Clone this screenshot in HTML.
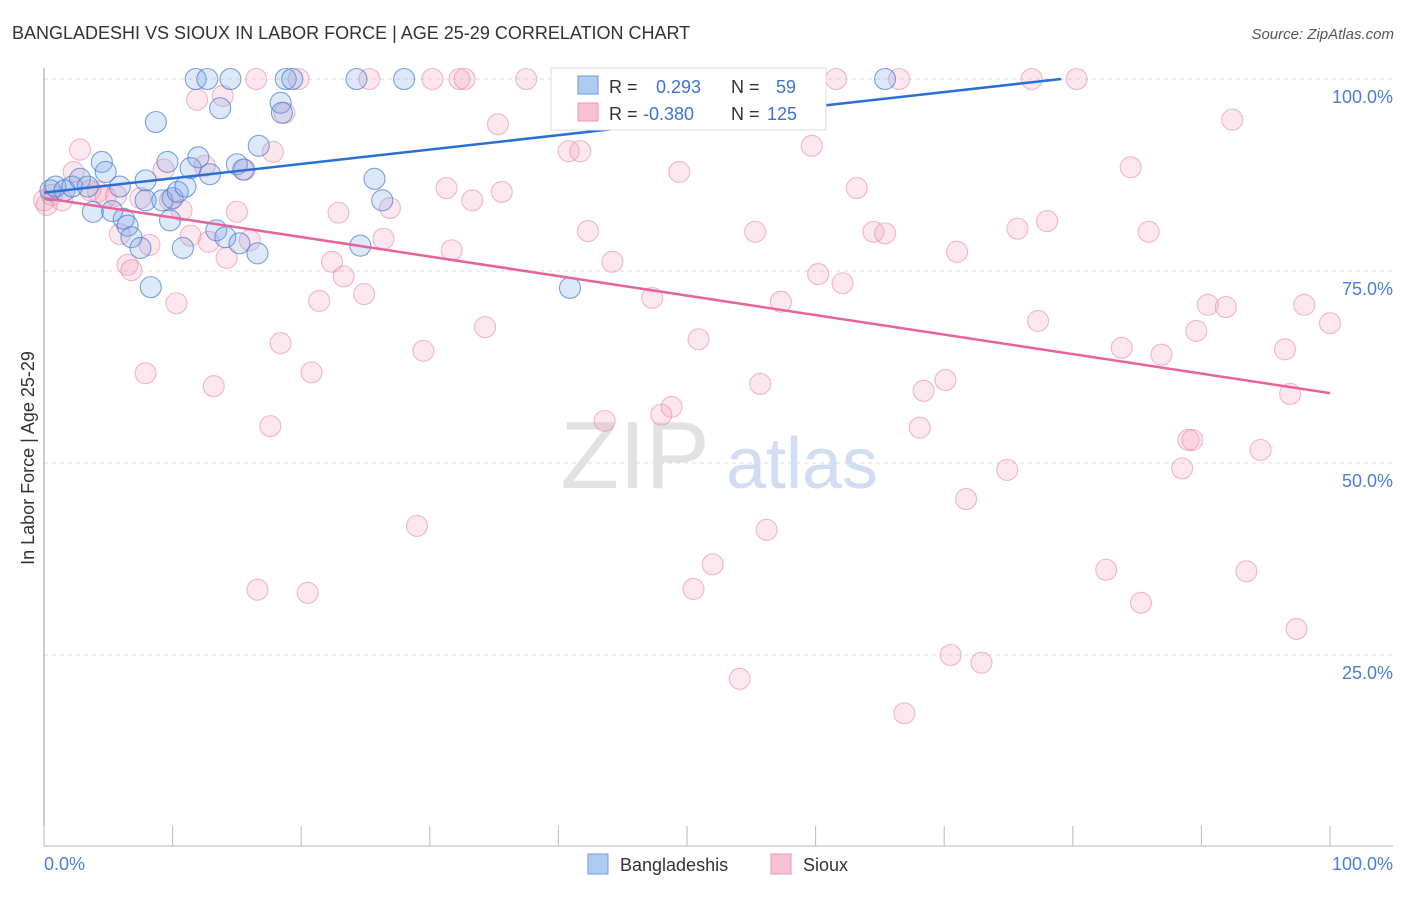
<!DOCTYPE html>
<html><head><meta charset="utf-8"><style>
body{margin:0;background:#fff;font-family:"Liberation Sans",sans-serif;}
svg text{font-family:"Liberation Sans",sans-serif;}
</style></head><body>
<svg id="chart" width="1406" height="892" xmlns="http://www.w3.org/2000/svg">
<text x="12" y="39" font-size="18" fill="#333">BANGLADESHI VS SIOUX IN LABOR FORCE | AGE 25-29 CORRELATION CHART</text>
<text x="1394" y="39" font-size="15" fill="#555" text-anchor="end" font-style="italic">Source: ZipAtlas.com</text>
<g id="grid"></g>
<text x="635" y="488" font-size="96" fill="#e2e2e2" font-family="Liberation Serif" text-anchor="middle">ZIP</text>
<text x="802" y="488" font-size="72" fill="#d0ddf2" text-anchor="middle">atlas</text>
<g id="points"></g>
<g id="lines"></g>
<line x1="44" y1="68" x2="44" y2="846" stroke="#999"/>
<line x1="44" y1="846" x2="1393" y2="846" stroke="#bbb"/>
<g id="ticks"></g>
<text x="34" y="458" font-size="18" fill="#333" text-anchor="middle" transform="rotate(-90 34 458)">In Labor Force | Age 25-29</text>
<text x="44" y="870" font-size="18" fill="#4a7fd6">0.0%</text>
<text x="1393" y="870" font-size="18" fill="#4a7fd6" text-anchor="end">100.0%</text>
<g>
<rect x="551" y="68" width="275" height="62" fill="#fff" stroke="#ddd"/>
<rect x="578" y="76" width="20" height="18" fill="#aecbf2" stroke="#6e9be0"/>
<rect x="578" y="103" width="20" height="18" fill="#f8c2d3" stroke="#eb9ab6"/>
<text x="609" y="93" font-size="18" fill="#333">R =</text>
<text x="656" y="93" font-size="18" fill="#3d73d0">0.293</text>
<text x="731" y="93" font-size="18" fill="#333">N =</text>
<text x="776" y="93" font-size="18" fill="#3d73d0">59</text>
<text x="609" y="120" font-size="18" fill="#333">R =</text>
<text x="643" y="120" font-size="18" fill="#3d73d0">-0.380</text>
<text x="731" y="120" font-size="18" fill="#333">N =</text>
<text x="767" y="120" font-size="18" fill="#3d73d0">125</text>
</g>
<g>
<rect x="588" y="854" width="20" height="20" fill="#aecbf2" stroke="#6e9be0"/>
<text x="620" y="871" font-size="18" fill="#333">Bangladeshis</text>
<rect x="771" y="854" width="20" height="20" fill="#f8c2d3" stroke="#eb9ab6"/>
<text x="803" y="871" font-size="18" fill="#333">Sioux</text>
</g>
</svg>
<script>
const yTicks=[100,75,50,25];
const yTickLabels=["100.0%","75.0%","50.0%","25.0%"];
const xTicks=[0,10,20,30,40,50,60,70,80,90,100];
const blueX=[0.5,0.9,1.6,2.2,2.8,3.4,3.8,4.5,4.8,5.3,5.9,6.2,6.5,6.8,7.5,7.9,7.9,8.3,8.7,9.2,9.6,9.8,10,10.4,10.8,11,11.4,11.8,12,12.7,12.9,13.4,13.7,14.1,14.5,15,15.2,15.5,16.6,16.7,18.4,18.5,18.8,19.3,24.3,24.6,25.7,26.3,28,40.9,65.4];
const blueY=[85.5,86,85.5,86,87,86,82.7,89.2,87.9,82.8,86,81.8,80.9,79.4,78,86.8,84.2,72.9,94.4,84.2,89.2,81.6,84.5,85.3,78,86,88.4,100,89.8,100,87.6,80.3,96.2,79.4,100,88.9,78.6,88.2,77.3,91.3,96.9,95.6,100,100,100,78.3,87,84.2,100,72.8,100];
const pinkX=[0,0.2,0.6,1.4,2.3,2.8,3.6,4.2,4.8,5.6,5.9,6.5,6.8,7.5,7.9,8.2,9.3,9.8,10.3,10.7,11.4,11.9,12.5,12.8,13.2,13.9,14.2,15,15.6,16,16.5,16.6,17.6,18.4,18.7,17.8,19.8,20.5,20.8,21.4,22.4,22.9,23.3,24.9,25.3,26.4,26.9,29,29.5,30.2,31.3,31.7,32.3,32.7,33.3,34.3,35.3,35.6,37.5,40.8,41.7,42.1,42.3,43.6,44.2,47.3,48,48.8,49.4,50.5,50.9,52,54.1,55.3,55.7,56.2,57.3,59.7,60.2,61.6,62.1,63.2,64.5,65.4,66.5,66.9,68.1,68.4,70.1,70.5,71,71.7,72.9,74.9,75.7,76.8,77.3,78,80.3,82.6,83.8,84.5,85.3,85.9,86.9,88.5,89,89.3,89.6,90.5,91.9,92.4,93.5,94.6,96.5,96.9,97.4,98,100];
const pinkY=[84.2,83.6,84.9,84.2,87.9,90.8,85.5,85.3,84.6,84.8,79.8,75.8,75.1,84.5,61.7,78.4,88.2,84.2,70.8,82.9,79.6,97.3,88.7,78.8,60,97.8,76.7,82.7,88.2,79,100,33.5,54.8,65.6,95.6,90.5,100,33.1,61.8,71.1,76.2,82.6,74.3,72,100,79.2,83.2,41.8,64.6,100,85.8,77.7,100,100,84.2,67.7,94.1,85.3,100,90.6,90.6,100,80.2,55.5,76.2,71.5,56.3,57.3,87.9,33.6,66.1,36.8,21.9,80.1,60.3,41.3,71,91.3,74.6,100,73.4,85.8,80.1,79.9,100,17.4,54.6,59.4,60.8,25,77.5,45.3,24,49.1,80.5,100,68.5,81.5,100,36.1,65,88.5,31.8,80.1,64.1,49.3,53,53,67.2,70.6,70.3,94.7,35.9,51.7,64.8,59,28.4,70.6,68.2];
const blueTrend=[0,85.2,79.1,100];
const pinkTrend=[0,84.5,100,59.1];
const NS="http://www.w3.org/2000/svg";
const sx=v=>44+v*12.86, sy=v=>847-v*7.68;
function mk(tag,attrs,parent){const e=document.createElementNS(NS,tag);for(const k in attrs)e.setAttribute(k,attrs[k]);parent.appendChild(e);return e;}
const grid=document.getElementById('grid'),ticks=document.getElementById('ticks');
yTicks.forEach((t,i)=>{
 const l=mk('line',{x1:44,x2:1393,y1:sy(t),y2:sy(t),stroke:'#ddd','stroke-dasharray':'4,4'},grid);
 
 
 const tx=mk('text',{x:1393,y:sy(t)+24,'font-size':18,fill:'#4a7fd6','text-anchor':'end'},ticks);
 tx.textContent=yTickLabels[i];
 
 
});
xTicks.forEach(t=>{
 const l=mk('line',{x1:sx(t),x2:sx(t),y1:826,y2:846,stroke:'#bbb'},ticks);
 
 
});
const pts=document.getElementById('points');
pinkX.forEach((x,i)=>{
 const c=mk('circle',{cx:sx(x),cy:sy(pinkY[i]),r:10.5,fill:'rgba(244,160,188,0.25)',stroke:'rgba(232,140,172,0.6)','stroke-width':1.1},pts);
 
 
});
blueX.forEach((x,i)=>{
 const c=mk('circle',{cx:sx(x),cy:sy(blueY[i]),r:10.5,fill:'rgba(120,165,232,0.25)',stroke:'rgba(70,125,210,0.7)','stroke-width':1.1},pts);
 
 
});
const lines=document.getElementById('lines');
const bl=mk('line',{x1:sx(blueTrend[0]),y1:sy(blueTrend[1]),x2:sx(blueTrend[2]),y2:sy(blueTrend[3]),stroke:'#2a6fd6','stroke-width':2.5},lines);


const pl=mk('line',{x1:sx(pinkTrend[0]),y1:sy(pinkTrend[1]),x2:sx(pinkTrend[2]),y2:sy(pinkTrend[3]),stroke:'#e8639a','stroke-width':2.5},lines);


</script>
</body></html>
